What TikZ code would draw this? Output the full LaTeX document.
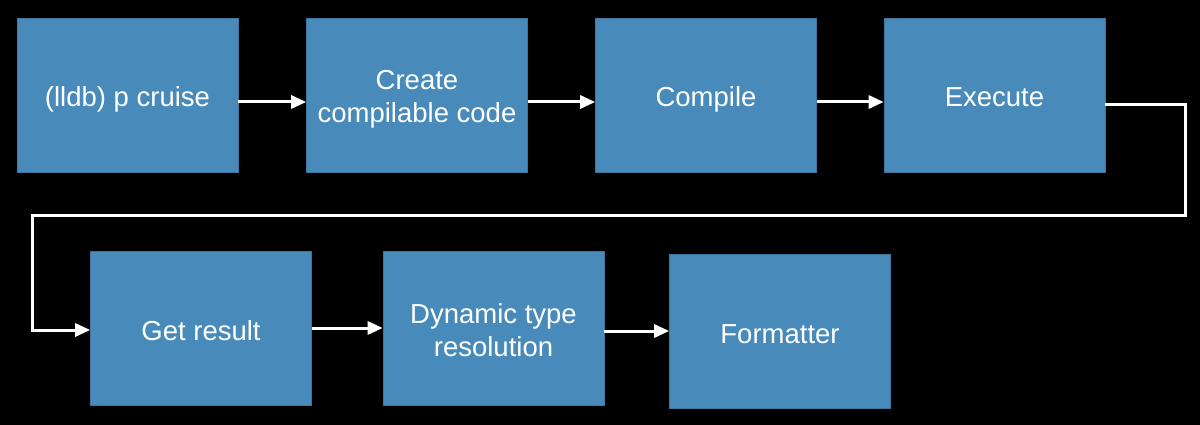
\documentclass[tikz,border=0pt]{standalone}
\usepackage{fontspec}
\setmainfont{Liberation Sans}
\usetikzlibrary{arrows.meta}
\definecolor{boxblue}{HTML}{488BBA}
\begin{document}
\begin{tikzpicture}[x=1pt,y=-1pt,
  stepbox/.style={fill=boxblue,draw=boxblue!85!black,line width=0.6pt,minimum width=221pt,minimum height=154pt,inner sep=0pt,
    text=white,align=center,font=\fontsize{27.5}{33}\selectfont},
  oneline/.style={text height=23.5pt,text depth=0pt},
  twoline/.style={text height=56pt,text depth=0pt},
  conn/.style={draw=white,line width=3pt,-{Triangle[length=15pt,width=13pt]}}]
\fill[black] (0,0) rectangle (1200,425);
\useasboundingbox (0,0) rectangle (1200,425);
\node[stepbox,oneline] (a) at (127.5,95) {(lldb) p cruise};
\node[stepbox,twoline] (b) at (417,95) {Create\\compilable code};
\node[stepbox,oneline] (c) at (706,95) {Compile};
\node[stepbox,oneline] (d) at (994.5,95) {Execute};
\node[stepbox,oneline] (e) at (201,328.5) {Get result};
\node[stepbox,twoline] (f) at (493.5,328.5) {Dynamic type\\resolution};
\node[stepbox,oneline] (g) at (780,331.5) {Formatter};
\coordinate (p1) at (1185,105);
\coordinate (p2) at (1185,215);
\coordinate (p3) at (32,215);
\coordinate (p4) at (32,330);
\draw[conn] (a.east |- 0,102) -- (b.west |- 0,102);
\draw[conn] (b.east |- 0,102) -- (c.west |- 0,102);
\draw[conn] (c.east |- 0,102) -- (d.west |- 0,102);
\draw[conn] (d.east |- p1) -- (p1) -- (p2) -- (p3) -- (p4) -- (e.west |- p4);
\draw[conn] (e.east |- 0,328) -- (f.west |- 0,328);
\draw[conn] (f.east |- 0,331) -- (g.west |- 0,331);
\end{tikzpicture}
\end{document}
